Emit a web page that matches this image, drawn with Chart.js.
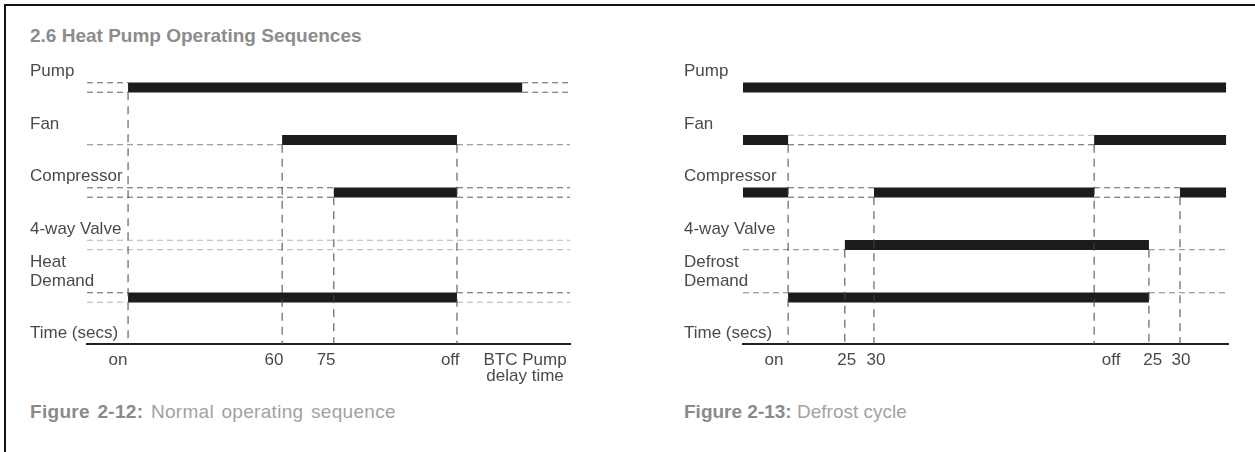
<!DOCTYPE html>
<html><head><meta charset="utf-8">
<script src="https://cdn.jsdelivr.net/npm/chart.js@4.4.1/dist/chart.umd.min.js"></script>
<style>
html,body{margin:0;padding:0;background:#fff;}
body{width:1255px;height:452px;position:relative;overflow:hidden;font-family:"Liberation Sans",Arial,sans-serif;}
#frame{position:absolute;left:4px;top:4px;width:1270px;height:470px;border-top:2px solid #111;border-left:2px solid #111;}
#title{position:absolute;left:30px;top:26px;font-weight:bold;font-size:19px;line-height:20px;color:#8c8c8c;white-space:nowrap;}
.cap{position:absolute;top:402px;font-size:19px;line-height:19px;color:#a2a2a2;white-space:nowrap;}
.cap b{color:#8a8a8a;}
canvas{position:absolute;top:0;}
</style>
</head><body>
<div id="frame"></div>
<div id="title">2.6 Heat Pump Operating Sequences</div>
<div class="cap" style="left:30px;word-spacing:2px;letter-spacing:0.3px"><b>Figure 2-12:</b> Normal operating sequence</div>
<div class="cap" style="left:684px"><b>Figure 2-13:</b> Defrost cycle</div>
<canvas id="left" width="627" height="452" style="left:0;width:627px;height:452px"></canvas>
<canvas id="right" width="628" height="452" style="left:627px;width:628px;height:452px"></canvas>
<script>
// ---------- DATA: Figure 2-12 (normal operating sequence) ----------
const leftRows = ['Pump', 'Fan', 'Compressor', '4-way Valve', ['Heat', 'Demand']];
const leftPumpOn = [[8.5, 90.1]];
const leftFanOn = [[40.4, 76.6]];
const leftCompressorOn = [[51.1, 76.6]];
const leftValveOn = [];
const leftDemandOn = [[8.5, 76.6]];
const leftEventX = [8.5, 40.4, 51.1, 76.6];          // on, 60, 75, off
const leftEventFromRow = [0, 1, 2, 1];
const leftTickPos = [6.4, 38.7, 49.5, 75.2, 90.7];
const leftTickLabels = ['on', '60', '75', 'off', ['BTC Pump', 'delay time']];

// ---------- DATA: Figure 2-13 (defrost cycle) ----------
const rightRows = ['Pump', 'Fan', 'Compressor', '4-way Valve', ['Defrost', 'Demand']];
const rightPumpOn = [[0, 99.6]];
const rightFanOn = [[0, 9.3], [72.4, 99.6]];
const rightCompressorOn = [[0, 9.3], [27.0, 72.4], [90.1, 99.6]];
const rightValveOn = [[21.0, 83.7]];
const rightDemandOn = [[9.3, 83.7]];
const rightEventX = [9.3, 21.0, 27.0, 72.4, 83.7, 90.1];   // on, 25, 30, off, 25, 30
const rightEventFromRow = [1, 3, 2, 1, 3, 2];
const rightTickPos = [6.4, 21.4, 27.4, 75.9, 84.5, 90.3];
const rightTickLabels = ['on', '25', '30', 'off', '25', '30'];

// ---------- styling ----------
const FONT = '"Liberation Sans", Arial, sans-serif';
const DARK = '#5e5e5e', MID = '#858585', LIGHT = '#b4b4b4';
const leftDashTop = [DARK, null, DARK, LIGHT, DARK];
const leftDashBottom = [DARK, MID, DARK, LIGHT, LIGHT];
const rightDashTop = [null, LIGHT, DARK, null, MID];
const rightDashBottom = [null, DARK, DARK, MID, null];
const EDGE = 0.09;
const Y_MIN = -0.5, Y_MAX = 4.886;

function seg(points, color, width, dash) {
  return {data: points, showLine: true, borderColor: color, borderWidth: width,
    borderDash: dash || [], borderCapStyle: 'butt', pointRadius: 0, pointHoverRadius: 0, fill: false, tension: 0};
}

function buildDatasets(rowsOn, dashTop, dashBottom, eventX, eventFrom) {
  const ds = [];
  eventX.forEach((x, i) => {
    ds.push(seg([{x: x, y: eventFrom[i] + EDGE}, {x: x, y: Y_MAX}], '#454545', 1, [8, 6]));
  });
  rowsOn.forEach((segs, r) => {
    const gaps = [];
    let cur = 0;
    segs.forEach(([a, b]) => { if (a - cur > 1) gaps.push([cur, a]); cur = b; });
    if (100 - cur > 1) gaps.push([cur, 100]);
    gaps.forEach(([a, b]) => {
      if (dashTop[r]) ds.push(seg([{x: a, y: r - EDGE}, {x: b, y: r - EDGE}], dashTop[r], 1, [6, 4]));
      if (dashBottom[r]) ds.push(seg([{x: a, y: r + EDGE}, {x: b, y: r + EDGE}], dashBottom[r], 1, [6, 4]));
    });
    segs.forEach(([a, b]) => ds.push(seg([{x: a, y: r}, {x: b, y: r}], '#1c1c1c', 10)));
  });
  return ds;
}

const rowLabelPlugin = {
  id: 'rowLabels',
  afterDraw(chart, args, opts) {
    const ctx = chart.ctx, ys = chart.scales.y;
    ctx.save();
    ctx.font = '17px ' + FONT;
    ctx.fillStyle = '#4a4a4a';
    ctx.textAlign = 'left';
    ctx.textBaseline = 'alphabetic';
    opts.labels.forEach((lab, i) => {
      const lines = Array.isArray(lab) ? lab : [lab];
      const base = ys.getPixelForValue(i) - 11;
      lines.forEach((t, j) => ctx.fillText(t, opts.x, base - (lines.length - 1 - j) * 19));
    });
    ctx.fillText('Time (secs)', opts.x, ys.bottom - 6);
    ctx.restore();
  }
};

function makeChart(id, rowsOn, dashTop, dashBottom, eventX, eventFrom, tickPos, tickLabels, rowLabels, padLeft, padRight, labelX) {
  return new Chart(document.getElementById(id), {
    type: 'scatter',
    data: {datasets: buildDatasets(rowsOn, dashTop, dashBottom, eventX, eventFrom)},
    options: {
      responsive: false, animation: false, devicePixelRatio: 1,
      layout: {padding: {left: padLeft, right: padRight, top: 61.25, bottom: 0}},
      plugins: {legend: {display: false}, tooltip: {enabled: false}, title: {display: false},
        rowLabels: {labels: rowLabels, x: labelX}},
      events: [],
      scales: {
        x: {type: 'linear', min: 0, max: 100,
          grid: {display: false, drawTicks: false},
          border: {display: true, color: '#222', width: 2},
          afterBuildTicks: s => { s.ticks = tickPos.map(v => ({value: v})); },
          afterFit: s => { s.height = 108; },
          ticks: {autoSkip: false, maxRotation: 0, minRotation: 0, padding: 9,
            color: '#4a4a4a', font: {family: FONT, size: 17, lineHeight: 0.9},
            callback: (v, i) => tickLabels[i]}
        },
        y: {type: 'linear', reverse: true, min: Y_MIN, max: Y_MAX, display: false}
      }
    },
    plugins: [rowLabelPlugin]
  });
}

makeChart('left', [leftPumpOn, leftFanOn, leftCompressorOn, leftValveOn, leftDemandOn],
  leftDashTop, leftDashBottom, leftEventX, leftEventFromRow, leftTickPos, leftTickLabels, leftRows, 87, 57, 30);
makeChart('right', [rightPumpOn, rightFanOn, rightCompressorOn, rightValveOn, rightDemandOn],
  rightDashTop, rightDashBottom, rightEventX, rightEventFromRow, rightTickPos, rightTickLabels, rightRows, 116, 27, 57);
</script>
</body></html>
